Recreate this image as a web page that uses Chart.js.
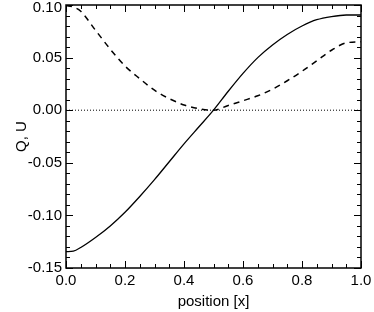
<!DOCTYPE html>
<html>
<head>
<meta charset="utf-8">
<script src="https://cdn.jsdelivr.net/npm/chart.js@4"></script>
<style>
  html, body { margin:0; padding:0; background:#fff; }
  #wrap { width:374px; height:312px; }
</style>
</head>
<body>
<div id="wrap"><canvas id="qu" width="374" height="312"></canvas></div>
<script>
// Q, U profiles along the position axis
const xPos  = [0.00,0.025,0.05,0.10,0.15,0.20,0.25,0.30,0.35,0.40,0.45,0.50,
               0.55,0.60,0.65,0.70,0.75,0.80,0.85,0.90,0.95,1.00];
const qVals = [-0.1345,-0.134,-0.1305,-0.121,-0.110,-0.097,-0.082,-0.066,-0.049,-0.032,-0.016,0.000,
               0.018,0.035,0.050,0.062,0.072,0.080,0.086,0.089,0.0905,0.0905];
const uVals = [0.0995,0.098,0.094,0.076,0.058,0.042,0.030,0.019,0.011,0.005,0.0015,0.000,
               0.0045,0.009,0.0137,0.020,0.028,0.037,0.047,0.057,0.064,0.065];
const zeroX = [0, 1];
const zeroY = [0, 0];

const xTicks = [0, 0.2, 0.4, 0.6, 0.8, 1.0];
const yTicks = [-0.15, -0.10, -0.05, 0.00, 0.05, 0.10];

const FONT = "'Liberation Sans', Arial, Helvetica, sans-serif";

const pts = (xs, ys) => xs.map((x, i) => ({ x, y: ys[i] }));

// ── IDL-style box with inward ticks on all four sides ────────────────────
const boxTicks = {
    id: "boxTicks",
    afterDraw(chart) {
        const { ctx, chartArea: a, scales: { x, y } } = chart;
        ctx.save();
        ctx.strokeStyle = "#000";
        ctx.lineWidth = 1.5;
        ctx.strokeRect(a.left, a.top, a.right - a.left, a.bottom - a.top);
        ctx.lineWidth = 1;
        ctx.beginPath();
        // x ticks every 0.05, majors every 0.2
        for (let i = 0; i <= 20; i++) {
            const px = Math.round(x.getPixelForValue(i * 0.05)) + 0.5;
            const len = i % 4 === 0 ? 7 : 4;
            ctx.moveTo(px, a.bottom); ctx.lineTo(px, a.bottom - len);
            ctx.moveTo(px, a.top);    ctx.lineTo(px, a.top + len);
        }
        // y ticks every 0.01, majors every 0.05
        for (let i = 0; i <= 25; i++) {
            const py = Math.round(y.getPixelForValue(-0.15 + i * 0.01)) + 0.5;
            const len = i % 5 === 0 ? 7 : 4;
            ctx.moveTo(a.left, py);  ctx.lineTo(a.left + len, py);
            ctx.moveTo(a.right, py); ctx.lineTo(a.right - len, py);
        }
        ctx.stroke();
        ctx.restore();
    }
};

// top label sits a little below its tick (like the IDL plot), done with a blank first line
const isTop = v => Math.abs(v - 0.10) < 1e-9;

new Chart(document.getElementById("qu"), {
    type: "line",
    data: {
        datasets: [
            { label: "Q", data: pts(xPos, qVals), borderColor: "#000", borderWidth: 1.3,
              pointRadius: 0, cubicInterpolationMode: "monotone", fill: false },
            { label: "U", data: pts(xPos, uVals), borderColor: "#000", borderWidth: 1.5,
              borderDash: [6, 5], pointRadius: 0, cubicInterpolationMode: "monotone", fill: false },
            { label: "zero", data: pts(zeroX, zeroY), borderColor: "#000", borderWidth: 1,
              borderDash: [1, 2], pointRadius: 0, fill: false },
        ],
    },
    options: {
        responsive: false, animation: false,
        layout: { padding: { top: 5, right: 13, left: 0, bottom: 0 } },
        plugins: { legend: { display: false }, tooltip: { enabled: false } },
        scales: {
            x: {
                type: "linear", min: 0, max: 1,
                grid: { display: false, drawTicks: false },
                border: { display: false },
                afterBuildTicks: s => { s.ticks = xTicks.map(v => ({ value: v })); },
                ticks: { color: "#000", padding: 4, maxRotation: 0,
                         font: { family: FONT, size: 15 },
                         callback: v => v.toFixed(1) },
                title: { display: true, text: "position [x]", color: "#000",
                         font: { family: FONT, size: 15 }, padding: { top: 0, bottom: 1 } },
                afterFit: s => { s.height = 44; s.paddingLeft = 0; s.paddingRight = 0; },
            },
            y: {
                type: "linear", min: -0.15, max: 0.10,
                grid: { display: false, drawTicks: false },
                border: { display: false },
                afterBuildTicks: s => { s.ticks = yTicks.map(v => ({ value: v })); },
                ticks: { color: "#000", padding: 4,
                         font: c => (c.tick && isTop(c.tick.value))
                             ? { family: FONT, size: 15, lineHeight: "5px" }
                             : { family: FONT, size: 15 },
                         callback: v => isTop(v) ? ["", v.toFixed(2)] : v.toFixed(2) },
                title: { display: true, text: "Q, U", color: "#000",
                         font: { family: FONT, size: 15 }, padding: { top: 13, bottom: 0 } },
                afterFit: s => { s.width = 66; s.paddingTop = 0; s.paddingBottom = 0; },
            },
        },
    },
    plugins: [boxTicks],
});
</script>
</body>
</html>
